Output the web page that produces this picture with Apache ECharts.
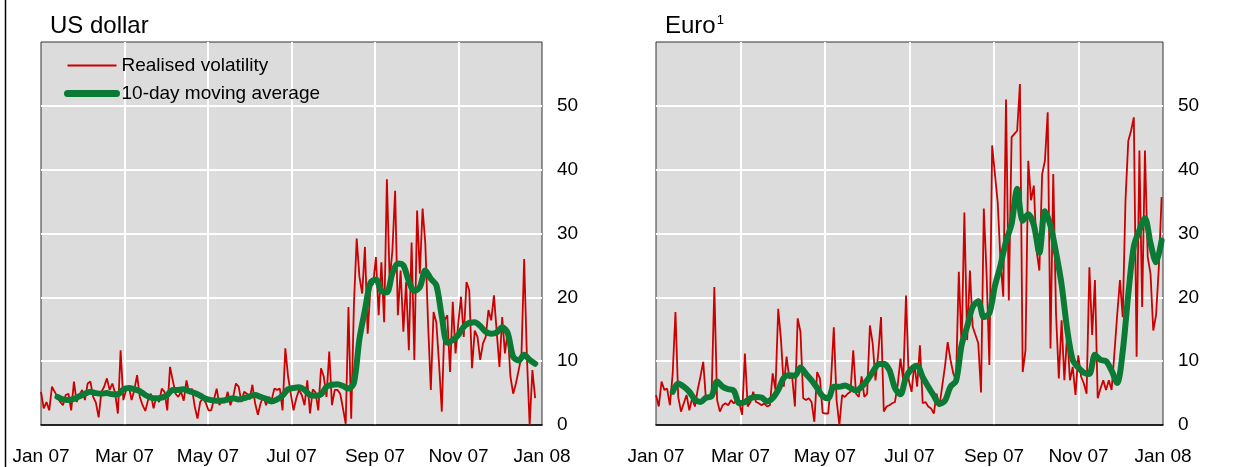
<!DOCTYPE html>
<html>
<head>
<meta charset="utf-8">
<script src="https://cdn.jsdelivr.net/npm/echarts@6/dist/echarts.min.js"></script>
<style>
  html, body { margin: 0; padding: 0; background: #fff; }
  #chart { width: 1234px; height: 467px; }
</style>
</head>
<body>
<div id="chart"></div>
<script>
// tick labels, every two months
const xLabels = ['Jan 07', 'Mar 07', 'May 07', 'Jul 07', 'Sep 07', 'Nov 07', 'Jan 08']

// realised volatility, one value every 2 days from 1 Jan 2007
const VOL_START = 0
const VOL_STEP = 2
const usdVol = [
  5.2, 2.6, 3.6, 2.3, 6.0, 5.2, 4.4, 3.6, 3.1, 4.7, 4.9, 2.3, 6.8, 3.6, 4.7, 5.5, 3.9, 6.5, 6.8, 4.4,
  3.5, 1.2, 5.2, 6.0, 7.3, 5.5, 6.5, 5.0, 1.8, 11.7, 3.9, 5.5, 6.0, 3.9, 5.5, 7.8, 4.4, 3.1, 2.2, 3.9,
  4.9, 2.6, 4.5, 3.6, 5.7, 5.2, 2.3, 9.1, 7.0, 4.9, 4.4, 5.2, 3.8, 7.0, 4.9, 5.7, 2.9, 1.0, 3.6, 4.2,
  3.5, 2.3, 2.3, 4.0, 5.7, 3.1, 4.2, 3.5, 5.2, 3.1, 4.4, 6.5, 6.0, 3.6, 5.2, 4.9, 4.0, 6.3, 3.4, 1.6,
  3.4, 4.5, 3.1, 4.4, 3.9, 5.7, 5.5, 5.7, 2.3, 12.0, 7.6, 4.9, 2.3, 4.2, 5.5, 4.7, 3.1, 7.0, 1.8, 5.6,
  5.1, 2.3, 8.9, 7.6, 4.4, 11.5, 3.1, 5.5, 5.5, 4.9, 2.6, 0.2, 18.5, 1.0, 19.0, 29.2, 23.2, 20.6, 27.9, 14.3,
  21.6, 22.1, 26.3, 17.2, 25.5, 16.1, 38.5, 22.7, 27.3, 36.7, 17.2, 24.2, 14.6, 22.4, 11.7, 28.6, 10.2, 33.6, 23.7, 33.9,
  28.4, 15.9, 5.5, 17.7, 16.1, 9.6, 2.1, 16.4, 17.2, 8.3, 19.3, 11.2, 15.9, 20.1, 13.8, 22.4, 21.1, 8.9, 14.8, 13.8,
  10.2, 12.8, 13.8, 18.0, 16.4, 20.3, 14.6, 9.1, 16.9, 11.2, 14.8, 7.6, 4.9, 6.5, 8.6, 10.7, 26.0, 10.7, 0.0, 8.6,
  4.2
]
const eurVol = [
  4.7, 2.9, 6.8, 5.5, 5.7, 3.1, 8.0, 17.7, 4.4, 2.1, 3.4, 4.7, 2.3, 4.2, 2.9, 5.5, 7.6, 9.9, 3.9, 4.2,
  4.4, 21.6, 3.9, 2.1, 3.1, 3.4, 3.1, 3.9, 3.4, 3.9, 3.4, 1.6, 11.2, 2.9, 3.6, 5.2, 3.6, 3.4, 3.1, 3.4,
  2.9, 3.1, 8.1, 5.5, 18.2, 13.3, 6.0, 10.7, 7.3, 7.6, 2.9, 16.7, 14.6, 4.2, 3.9, 4.2, 3.6, 0.5, 8.3, 7.3,
  1.9, 1.8, 1.8, 7.0, 15.3, 3.9, 0.0, 4.7, 4.4, 4.9, 5.2, 11.7, 4.9, 4.4, 7.6, 4.4, 4.9, 15.6, 12.8, 7.0,
  11.2, 16.9, 2.1, 2.9, 3.1, 3.4, 3.6, 6.3, 10.4, 7.0, 20.3, 7.0, 5.2, 9.6, 6.0, 12.5, 3.4, 3.6, 2.9, 2.6,
  1.8, 4.9, 2.9, 6.0, 9.1, 13.0, 10.2, 8.1, 7.0, 24.0, 12.2, 33.3, 13.3, 24.2, 15.4, 14.1, 12.8, 5.1, 33.9, 23.7,
  9.4, 43.8, 39.3, 34.9, 25.8, 20.1, 51.0, 19.5, 45.1, 45.6, 46.1, 53.4, 8.3, 11.7, 41.4, 35.2, 37.5, 27.3, 24.2, 39.3,
  41.4, 49.0, 12.0, 39.3, 17.4, 7.3, 16.4, 7.0, 14.3, 7.0, 9.1, 4.7, 10.9, 7.6, 6.5, 4.9, 24.7, 14.1, 22.7, 4.2,
  5.7, 7.0, 5.5, 7.0, 5.5, 11.2, 17.2, 22.7, 16.9, 35.2, 44.5, 46.1, 48.2, 10.7, 43.0, 18.5, 43.0, 26.3, 23.7, 14.8,
  17.2, 24.7, 35.7
]

// 10-day moving average, one value every 4 days from 13 Jan 2007
const AVG_START = 12
const AVG_STEP = 4
const usdAvg = [
  4.4, 4.0, 3.9, 4.1, 4.5, 4.9, 5.2, 5.0, 4.9, 5.0, 4.8, 4.8, 5.6, 5.8, 5.6, 5.3, 4.7, 4.3, 4.2, 4.3,
  4.7, 5.5, 5.5, 5.6, 5.3, 5.0, 4.6, 4.1, 3.9, 3.8, 3.8, 4.0, 4.2, 4.0, 4.2, 4.5, 4.7, 4.4, 4.1, 3.7,
  4.0, 4.6, 5.6, 5.8, 5.9, 5.5, 4.7, 4.6, 4.8, 6.0, 6.3, 6.4, 6.1, 5.7, 6.6, 13.5, 18.0, 22.3, 22.8, 21.0,
  20.8, 23.8, 25.3, 25.0, 22.5, 21.0, 21.6, 24.2, 22.9, 21.9, 17.0, 12.9, 13.3, 14.1, 15.4, 16.0, 16.1, 15.5, 14.6, 14.3,
  14.5, 15.3, 14.4, 10.7, 10.1, 11.0, 10.2, 9.6
]
const eurAvg = [
  5.2, 6.5, 6.0, 5.2, 4.0, 3.6, 4.3, 4.5, 6.8, 6.0, 5.6, 5.4, 3.4, 3.6, 4.2, 4.4, 4.3, 3.7, 4.2, 5.5,
  7.4, 7.8, 7.7, 9.0, 8.0, 7.0, 5.8, 4.5, 4.2, 6.0, 6.0, 6.2, 5.8, 5.4, 6.0, 7.0, 8.3, 9.5, 9.6, 8.6,
  5.8, 4.8, 7.5, 8.8, 9.3, 7.5, 6.0, 4.6, 3.3, 3.8, 6.0, 6.9, 12.5, 15.4, 18.5, 19.4, 16.9, 17.5, 21.8, 25.0,
  28.8, 31.5, 37.0, 32.0, 33.0, 31.3, 27.0, 33.5, 31.2, 27.0, 22.0, 15.0, 10.2, 9.0, 8.2, 8.0, 11.0, 10.2, 10.0, 8.5,
  6.6, 11.5, 20.5, 28.0, 30.5, 32.4, 28.5, 25.5, 28.9
]

const RED = '#cc0000'
const GREEN = '#0a7a35'
const FONT = 'Arial, "Liberation Sans", sans-serif'

// day of year -> months on the x axis
const toPoints = (vals, start, step) => vals.map((v, i) => [(start + i * step) * 12 / 365, v])

const chart = echarts.init(document.getElementById('chart'))

const xAxisFor = (gridIndex) => ({
  type: 'value',
  gridIndex,
  min: 0,
  max: 12,
  interval: 2,
  axisLine: { show: true, onZero: false, lineStyle: { color: '#000', width: 1.5 } },
  axisTick: { show: false },
  axisLabel: {
    margin: 22,
    fontSize: 19,
    color: '#000',
    fontFamily: FONT,
    showMinLabel: true,
    showMaxLabel: true,
    formatter: v => xLabels[Math.round(v / 2)]
  },
  splitLine: { show: true, showMinLine: false, showMaxLine: false, lineStyle: { color: '#fff', width: 2 } }
})

const yAxisFor = (gridIndex) => ({
  type: 'value',
  gridIndex,
  position: 'right',
  min: 0,
  max: 60,
  interval: 10,
  axisLine: { show: false },
  axisTick: { show: false },
  axisLabel: {
    margin: 15,
    fontSize: 19,
    color: '#000',
    fontFamily: FONT,
    formatter: v => (v >= 60 ? '' : String(v))
  },
  splitLine: { show: true, showMinLine: false, showMaxLine: false, lineStyle: { color: '#fff', width: 2 } }
})

const volSeries = (data, idx) => ({
  name: 'Realised volatility',
  type: 'line',
  xAxisIndex: idx,
  yAxisIndex: idx,
  data: toPoints(data, VOL_START, VOL_STEP),
  symbol: 'none',
  lineStyle: { color: RED, width: 1.8 },
  itemStyle: { color: RED },
  animation: false
})

const avgSeries = (data, idx) => ({
  name: '10-day moving average',
  type: 'line',
  xAxisIndex: idx,
  yAxisIndex: idx,
  data: toPoints(data, AVG_START, AVG_STEP),
  symbol: 'none',
  smooth: 0.3,
  lineStyle: { color: GREEN, width: 6, cap: 'round', join: 'round' },
  itemStyle: { color: GREEN },
  animation: false
})

chart.setOption({
  animation: false,
  textStyle: { fontFamily: FONT },
  title: [
    {
      text: 'US dollar',
      left: 45,
      top: 9,
      textStyle: { fontSize: 24, fontWeight: 'normal', color: '#000', fontFamily: FONT }
    },
    {
      text: '{a|Euro}{b|1}',
      left: 660,
      top: 9,
      textStyle: {
        fontWeight: 'normal',
        rich: {
          a: { fontSize: 24, fontWeight: 'normal', color: '#000', fontFamily: FONT },
          b: { fontSize: 13, fontWeight: 'normal', color: '#000', fontFamily: FONT, verticalAlign: 'top', padding: [0, 0, 0, 1] }
        }
      }
    }
  ],
  legend: {
    left: 59,
    top: 51,
    orient: 'vertical',
    itemWidth: 49,
    itemHeight: 18,
    itemGap: 9,
    itemStyle: { opacity: 0 },
    textStyle: { fontSize: 19, color: '#000', fontFamily: FONT },
    data: [
      { name: 'Realised volatility', lineStyle: { color: RED, width: 2 } },
      { name: '10-day moving average', lineStyle: { color: GREEN, width: 7, cap: 'round' } }
    ]
  },
  grid: [
    { left: 41, top: 42, width: 501, height: 383, show: true, backgroundColor: '#dcdcdc', borderColor: '#333', borderWidth: 1 },
    { left: 656, top: 42, width: 507, height: 383, show: true, backgroundColor: '#dcdcdc', borderColor: '#333', borderWidth: 1 }
  ],
  xAxis: [xAxisFor(0), xAxisFor(1)],
  yAxis: [yAxisFor(0), yAxisFor(1)],
  series: [
    volSeries(usdVol, 0),
    avgSeries(usdAvg, 0),
    volSeries(eurVol, 1),
    avgSeries(eurAvg, 1)
  ],
  graphic: [
    {
      type: 'line',
      shape: { x1: 5.5, y1: 0, x2: 5.5, y2: 467 },
      style: { stroke: '#000', lineWidth: 1.5 },
      silent: true
    }
  ]
})

window.addEventListener('resize', () => chart.resize())
</script>
</body>
</html>
